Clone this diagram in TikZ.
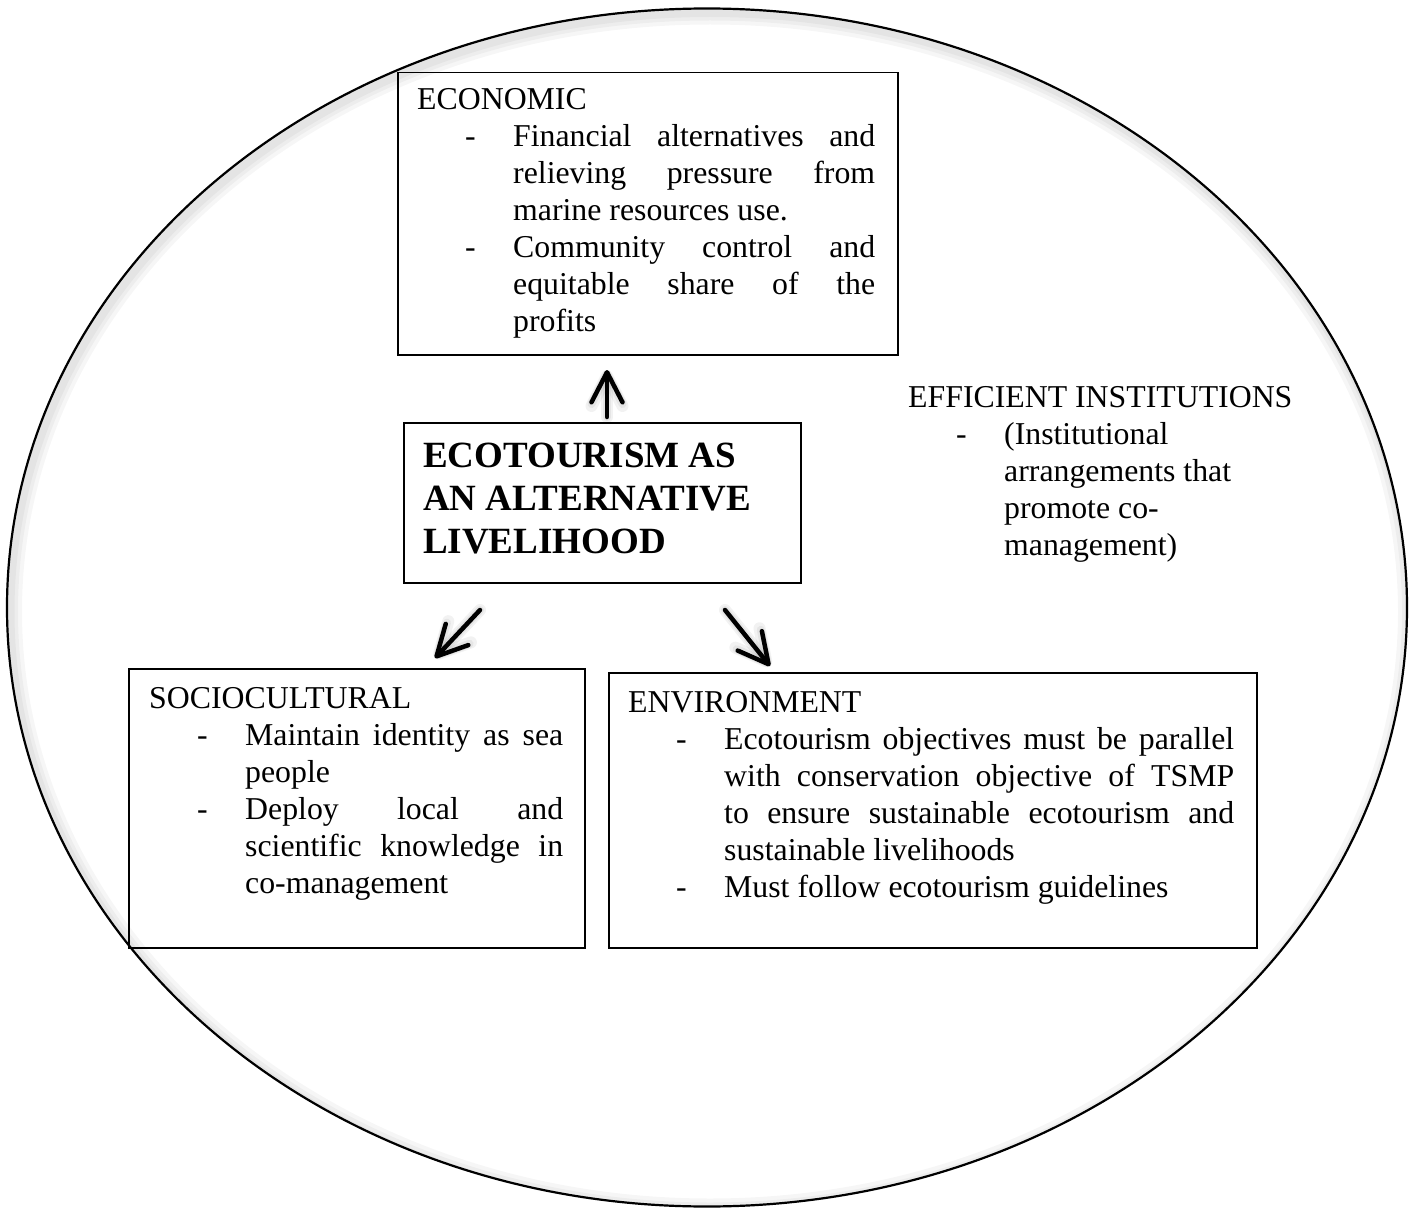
\documentclass[tikz,border=0pt]{standalone}
\usepackage{fontspec}
\setmainfont{Liberation Serif}
\usetikzlibrary{arrows.meta}

% list layout: dash column and text column offsets from the heading
\newlength\dashin  \setlength\dashin{48pt}
\newlength\dashgap \setlength\dashgap{48pt}
\newlength\colin   \setlength\colin{96pt}
\newlength\colwd   \setlength\colwd{360pt}
\newcommand\dashfull[1]{\hspace*{\dashin}\makebox[\dashgap][l]{-}\makebox[\colwd][s]{#1}}
\newcommand\dashplain[1]{\hspace*{\dashin}\makebox[\dashgap][l]{-}#1}
\newcommand\contfull[1]{\hspace*{\colin}\makebox[\colwd][s]{#1}}
\newcommand\contplain[1]{\hspace*{\colin}#1}
\newcommand\bodyfont{\fontsize{31.8}{37}\selectfont}

\begin{document}
\begin{tikzpicture}[x=1pt,y=-1pt,
  boxframe/.style={draw=black, line width=1.5pt, inner sep=0pt, anchor=north west},
  blocktext/.style={anchor=base west, inner sep=0pt},
  flow/.style={line width=4.5pt, line cap=round,
    -{Straight Barb[length=30pt,width=31pt,round]}},
  flowshade/.style={line width=#1, line cap=round, draw=black, opacity=.05,
    -{Straight Barb[length=30pt,width=31pt,round]}},
]
\useasboundingbox (0,0) rectangle (1409,1209);
\fill[white] (0,0) rectangle (1409,1209);

% outer ellipse with a soft inner shade along its rim
\begin{scope}
  \clip (707,607.5) ellipse [x radius=700, y radius=599];
  \foreach \w in {24,16,9}
    \draw[line width=\w pt, black, opacity=.035] (710,611.5) ellipse [x radius=700, y radius=599];
\end{scope}
\draw[line width=2.2pt] (707,607.5) ellipse [x radius=700, y radius=599];

% boxes
\node[boxframe, minimum width=500pt, minimum height=282pt] (eco) at (397,72) {};
\node[boxframe, minimum width=397pt, minimum height=160pt] (core) at (403,422) {};
\node[boxframe, minimum width=456pt, minimum height=279pt] (soc) at (128,668) {};
\node[boxframe, minimum width=648pt, minimum height=275pt] (env) at (608,672) {};

% texts
\node[blocktext] (ecotext) at ([shift={(20,38)}]eco.north west) {%
  \setlength\colwd{362pt}%
  \begin{minipage}[t]{\dimexpr\colin+\colwd\relax}\bodyfont
  ECONOMIC\\
  \dashfull{Financial alternatives and}\\
  \contfull{relieving pressure from}\\
  \contplain{marine resources use.}\\
  \dashfull{Community control and}\\
  \contfull{equitable share of the}\\
  \contplain{profits}
  \end{minipage}};

\node[blocktext] (coretext) at ([shift={(20,45)}]core.north west) {%
  \begin{minipage}[t]{375pt}\bfseries\fontsize{37}{43}\selectfont
  ECOTOURISM AS\\
  AN ALTERNATIVE\\
  LIVELIHOOD
  \end{minipage}};

\node[blocktext] (soctext) at ([shift={(21,40)}]soc.north west) {%
  \setlength\colwd{318pt}%
  \begin{minipage}[t]{\dimexpr\colin+\colwd\relax}\bodyfont
  SOCIOCULTURAL\\
  \dashfull{Maintain identity as sea}\\
  \contplain{people}\\
  \dashfull{Deploy local and}\\
  \contfull{scientific knowledge in}\\
  \contplain{co-management}
  \end{minipage}};

\node[blocktext] (envtext) at ([shift={(20,40)}]env.north west) {%
  \setlength\colwd{510pt}%
  \begin{minipage}[t]{\dimexpr\colin+\colwd\relax}\bodyfont
  ENVIRONMENT\\
  \dashfull{Ecotourism objectives must be parallel}\\
  \contfull{with conservation objective of TSMP}\\
  \contfull{to ensure sustainable ecotourism and}\\
  \contplain{sustainable livelihoods}\\
  \dashplain{Must follow ecotourism guidelines}
  \end{minipage}};

\node[blocktext] (insttext) at (908,407) {%
  \begin{minipage}[t]{400pt}\bodyfont
  EFFICIENT INSTITUTIONS\\
  \dashplain{(Institutional}\\
  \contplain{arrangements that}\\
  \contplain{promote co-}\\
  \contplain{management)}
  \end{minipage}};

% arrows from the central box
\coordinate (upS) at (607,417);  \coordinate (upE) at (607,370);
\coordinate (dlS) at (480,610);  \coordinate (dlE) at (435,658);
\coordinate (drS) at (725,610);  \coordinate (drE) at (770,666);

\foreach \s/\e in {upS/upE, dlS/dlE, drS/drE} {
  \draw[flowshade=12pt, xshift=3pt, yshift=-3pt] (\s) -- (\e);
  \draw[flowshade=8pt, xshift=2pt, yshift=-2pt] (\s) -- (\e);
  \draw[flow] (\s) -- (\e);
}
\end{tikzpicture}
\end{document}
